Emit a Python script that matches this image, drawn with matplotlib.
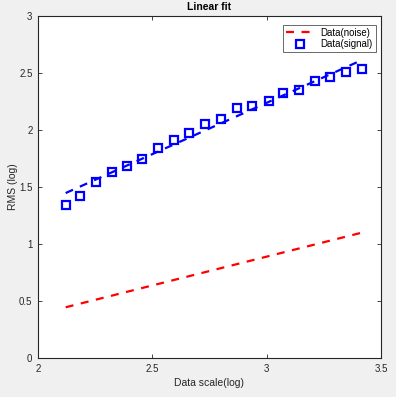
import matplotlib
matplotlib.use("Agg")
import matplotlib.pyplot as plt

# signal data (log scale)
signal_x = [2.121, 2.184, 2.255, 2.322, 2.389, 2.456, 2.526, 2.595, 2.662, 2.730,
            2.800, 2.870, 2.937, 3.010, 3.073, 3.143, 3.211, 3.277, 3.347, 3.417]
signal_y = [1.339, 1.421, 1.544, 1.629, 1.684, 1.743, 1.842, 1.912, 1.976, 2.050,
            2.096, 2.196, 2.211, 2.257, 2.327, 2.348, 2.430, 2.465, 2.506, 2.535]

# fitted lines (endpoints)
noise_fit_x = [2.121, 3.417]
noise_fit_y = [0.445, 1.100]
signal_fit_x = [2.121, 3.417]
signal_fit_y = [1.447, 2.614]

x_ticks = [2, 2.5, 3, 3.5]
x_tick_labels = ["2", "2.5", "3", "3.5"]
y_ticks = [0, 0.5, 1, 1.5, 2, 2.5, 3]
y_tick_labels = ["0", "0.5", "1", "1.5", "2", "2.5", "3"]

plt.rcParams['font.family'] = ['Liberation Sans', 'DejaVu Sans']

fig = plt.figure(figsize=(3.96, 3.97), dpi=100, facecolor='#f0f0f0')
ax = fig.add_axes([38/396, 39/397, 343/396, 342/397])
ax.set_facecolor('white')

ax.plot(noise_fit_x, noise_fit_y, color='red', lw=1.6,
        linestyle=(0, (3.6, 3.4)), label='Data(noise)')
ax.plot(signal_x, signal_y, linestyle='none', marker='s', markersize=6.3,
        markerfacecolor='none', markeredgecolor='blue', markeredgewidth=1.6,
        label='Data(signal)')
ax.plot(signal_fit_x, signal_fit_y, color='blue', lw=1.6,
        linestyle=(0, (3.6, 3.4)))

ax.set_xlim(2, 3.5)
ax.set_ylim(0, 3)
ax.set_xticks(x_ticks)
ax.set_xticklabels(x_tick_labels)
ax.set_yticks(y_ticks)
ax.set_yticklabels(y_tick_labels)
ax.tick_params(direction='in', length=3, width=0.6, top=True, right=True,
               labelsize=7, colors='#262626', pad=4)
for s in ax.spines.values():
    s.set_linewidth(0.8)
    s.set_color('#262626')

ax.set_xlabel('Data scale(log)', fontsize=7.5, color='#262626', labelpad=3)
ax.set_ylabel('RMS (log)', fontsize=7.5, color='#262626', labelpad=1)
ax.set_title('Linear fit', fontsize=7.5, fontweight='bold', pad=4)

leg = ax.legend(loc='upper right', bbox_to_anchor=(0.985, 0.974),
                fontsize=6.9, frameon=True, fancybox=False,
                borderpad=0.3, handlelength=2.8, handletextpad=0.8,
                labelspacing=0.15, borderaxespad=0.0)
leg.get_frame().set_edgecolor('#262626')
leg.get_frame().set_linewidth(0.6)

fig.savefig('out.png', dpi=100, facecolor=fig.get_facecolor())
